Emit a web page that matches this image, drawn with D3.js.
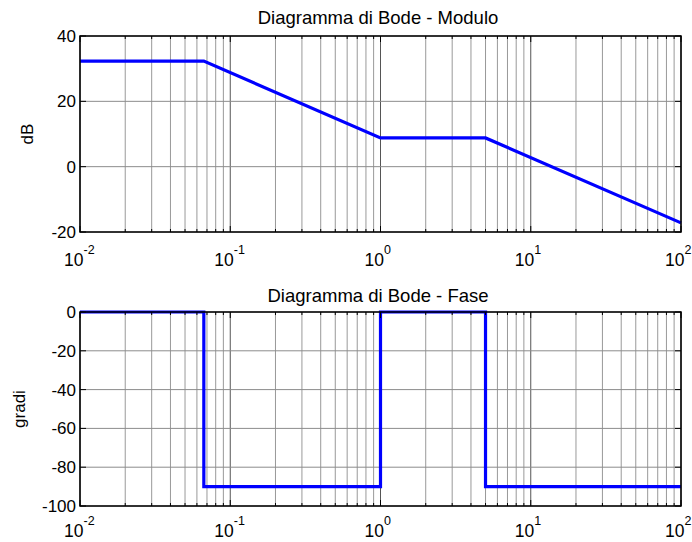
<!DOCTYPE html>
<html>
<head>
<meta charset="utf-8">
<script src="https://cdn.jsdelivr.net/npm/d3@7"></script>
<style>
  body { margin: 0; background: #fff; }
  text { font-family: Arial, "Liberation Sans", Helvetica, sans-serif; fill: #000; }
</style>
</head>
<body>
<div class="chart"></div>
<script>
// canvas
var width = 692;
var height = 542;

// data
var magFreq = [0.01, 0.0667, 1, 5, 100];
var magDb   = [32.3, 32.3, 8.8, 8.8, -17.2];

var phaseFreq = [0.01, 0.0667, 0.0667, 1, 1, 5, 5, 100];
var phaseDeg  = [0, 0, -90, -90, 0, 0, -90, -90];

var magTicks   = [40, 20, 0, -20];
var phaseTicks = [0, -20, -40, -60, -80, -100];
var decades    = [-2, -1, 0, 1, 2];

const svg = d3.select(".chart")
  .append("svg")
  .attr("width", width)
  .attr("height", height);

function panel(opts) {
  var x = d3.scaleLog().domain([0.01, 100]).range([80, 681]);
  var y = d3.scaleLinear().domain(opts.ydomain).range([opts.bottom, opts.top]);
  var g = svg.append("g");

  // minor + major log values
  var minors = [];
  decades.slice(0, -1).forEach(function(e) {
    for (var k = 2; k <= 9; k++) minors.push(k * Math.pow(10, e));
  });
  var majors = decades.map(function(e) { return Math.pow(10, e); });

  // vertical grid
  g.selectAll(".vminor").data(minors).enter().append("line")
    .attr("x1", d => x(d)).attr("x2", d => x(d))
    .attr("y1", opts.top).attr("y2", opts.bottom)
    .attr("stroke", "#999").attr("stroke-width", 1);
  g.selectAll(".vmajor").data(majors).enter().append("line")
    .attr("x1", d => x(d)).attr("x2", d => x(d))
    .attr("y1", opts.top).attr("y2", opts.bottom)
    .attr("stroke", "#555").attr("stroke-width", 1);

  // horizontal grid
  g.selectAll(".hgrid").data(opts.ticks).enter().append("line")
    .attr("x1", 80).attr("x2", 681)
    .attr("y1", d => y(d)).attr("y2", d => y(d))
    .attr("stroke", "#8c8c8c").attr("stroke-width", 1);

  // curve
  var pts = d3.zip(opts.xs, opts.ys);
  g.append("path")
    .attr("d", d3.line().x(d => x(d[0])).y(d => y(d[1]))(pts))
    .attr("fill", "none")
    .attr("stroke", "#0000ff")
    .attr("stroke-width", 3.2);

  // box
  g.append("rect")
    .attr("x", 80).attr("y", opts.top)
    .attr("width", 601).attr("height", opts.bottom - opts.top)
    .attr("fill", "none").attr("stroke", "#000").attr("stroke-width", 1.5);

  // x ticks (top & bottom, inward)
  [opts.top, opts.bottom].forEach(function(yy, i) {
    var dir = i === 0 ? 1 : -1;
    g.selectAll(null).data(minors).enter().append("line")
      .attr("x1", d => x(d)).attr("x2", d => x(d))
      .attr("y1", yy).attr("y2", yy + dir * 3)
      .attr("stroke", "#000");
    g.selectAll(null).data(majors).enter().append("line")
      .attr("x1", d => x(d)).attr("x2", d => x(d))
      .attr("y1", yy).attr("y2", yy + dir * 6)
      .attr("stroke", "#000");
  });

  // y ticks (left & right, inward)
  [80, 681].forEach(function(xx, i) {
    var dir = i === 0 ? 1 : -1;
    g.selectAll(null).data(opts.ticks).enter().append("line")
      .attr("x1", xx).attr("x2", xx + dir * 6)
      .attr("y1", d => y(d)).attr("y2", d => y(d))
      .attr("stroke", "#000");
  });

  // y tick labels
  g.selectAll(".ylab").data(opts.ticks).enter().append("text")
    .attr("x", 76).attr("y", d => y(d) + 6)
    .attr("text-anchor", "end")
    .style("font-size", "17px")
    .text(d => d);

  // x tick labels: 10^e
  var xl = g.selectAll(".xlab").data(decades).enter().append("text")
    .attr("x", d => x(Math.pow(10, d)) - 16)
    .attr("y", opts.bottom + opts.xlabDy)
    .style("font-size", "17.5px");
  xl.append("tspan").text("10");
  xl.append("tspan").attr("dy", -12).style("font-size", "12.5px").text(d => d);

  // title
  g.append("text")
    .attr("x", 378).attr("y", opts.titleY)
    .attr("text-anchor", "middle")
    .style("font-size", "18.5px")
    .text(opts.title);

  // y label
  g.append("text")
    .attr("transform", "translate(" + opts.ylabX + "," + ((opts.top + opts.bottom) / 2) + ") rotate(-90)")
    .attr("text-anchor", "middle")
    .style("font-size", "17px")
    .text(opts.ylabel);
}

panel({
  top: 36, bottom: 232, ydomain: [-20, 40], ticks: magTicks,
  xs: magFreq, ys: magDb, xlabDy: 34,
  title: "Diagramma di Bode - Modulo", titleY: 24, ylabel: "dB", ylabX: 33
});

panel({
  top: 312, bottom: 506, ydomain: [-100, 0], ticks: phaseTicks,
  xs: phaseFreq, ys: phaseDeg, xlabDy: 31,
  title: "Diagramma di Bode - Fase", titleY: 302, ylabel: "gradi", ylabX: 25
});
</script>
</body>
</html>
